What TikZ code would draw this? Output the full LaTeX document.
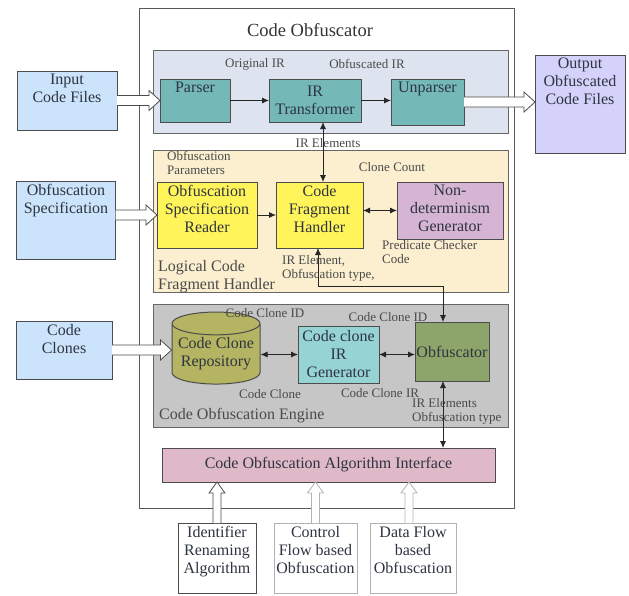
\documentclass[tikz,border=0pt]{standalone}
\usepackage{fontspec}
\setmainfont{Liberation Serif}
\usetikzlibrary{shapes.geometric,arrows.meta,calc}
\definecolor{topc}{HTML}{DDE4EF}
\definecolor{creamc}{HTML}{FCEFD0}
\definecolor{grayc}{HTML}{C6C6C6}
\definecolor{tealc}{HTML}{74B8B8}
\definecolor{yelc}{HTML}{FFF55A}
\definecolor{purc}{HTML}{D6B4D4}
\definecolor{inc}{HTML}{CCE4FB}
\definecolor{outc}{HTML}{D4D2FA}
\definecolor{olivec}{HTML}{B5B462}
\definecolor{cyanc}{HTML}{95D3D4}
\definecolor{obfc}{HTML}{8DA46A}
\definecolor{ifc}{HTML}{E0B9C8}
\definecolor{txt}{HTML}{2E3440}
\definecolor{lbltxt}{HTML}{4A4A4A}
\newcommand\hollowH[3][hollow]{\draw[#1] let \p1=(#2), \p2=(#3) in
  (\x1,\y1+5pt) -- (\x2-11pt,\y1+5pt) -- (\x2-11pt,\y1+10pt) -- (\x2,\y1)
  -- (\x2-11pt,\y1-10pt) -- (\x2-11pt,\y1-5pt) -- (\x1,\y1-5pt);}
\newcommand\hollowV[3][hollow]{\draw[#1] let \p1=(#2), \p2=(#3) in
  (\x1-4pt,\y1) -- (\x1-4pt,\y2-11pt) -- (\x1-8pt,\y2-11pt) -- (\x1,\y2)
  -- (\x1+8pt,\y2-11pt) -- (\x1+4pt,\y2-11pt) -- (\x1+4pt,\y1);}
\tikzset{
  region/.style={draw=black!60, line width=1pt, inner sep=0pt, outer sep=0pt},
  box/.style={draw=black!70, line width=1pt, inner sep=0pt, outer sep=0pt, align=center,
    font=\fontsize{16}{18}\selectfont, text=txt},
  toptext/.style={anchor=north, inner sep=0pt, yshift=-3pt, align=center,
    font=\fontsize{16}{18}\selectfont, text=txt},
  tbox/.style={label={[toptext]north:#1}},
  lbl/.style={font=\fontsize{13}{14.5}\selectfont, text=lbltxt, inner sep=0pt, align=left},
  big/.style={font=\fontsize{16}{18}\selectfont, text=lbltxt, inner sep=0pt, align=left},
  tip/.style={-{Latex[length=7pt,width=6pt]}, line width=0.8pt, draw=black!85},
  ttip/.style={{Latex[length=7pt,width=6pt]}-{Latex[length=7pt,width=6pt]}, line width=0.8pt, draw=black!85},
  hollow/.style={draw=black!70, fill=white, line width=0.8pt},
  lhollow/.style={draw=black!30, fill=white, line width=0.8pt},
}
\begin{document}
\begin{tikzpicture}[x=1pt,y=-1pt]
\useasboundingbox (0,0) rectangle (629,595);
% frame and regions
\node[region, draw=black!65, minimum width=375, minimum height=500] (frame) at (326.5,258) {};
\node[font=\fontsize{18.5}{20}\selectfont, text=black!80] (title) at (310,30) {Code Obfuscator};
\node[region, fill=topc, minimum width=355, minimum height=83] (rtop) at (330.5,91.5) {};
\node[region, fill=creamc, minimum width=355, minimum height=142] (rmid) at (330.5,221) {};
\node[region, fill=grayc, minimum width=355, minimum height=123] (rbot) at (330.5,365.5) {};
% outside inputs / outputs
\node[box, fill=inc, minimum width=100, minimum height=59, tbox={Input\\Code Files}] (inp) at (67,100.5) {};
\node[box, fill=outc, minimum width=90, minimum height=98, tbox={Output\\Obfuscated\\Code Files}] (out) at (580,104) {};
\node[box, fill=inc, minimum width=99, minimum height=78, tbox={Obfuscation\\Specification}] (spec) at (66,220) {};
\node[box, fill=inc, minimum width=96, minimum height=58, tbox={Code\\Clones}] (clones) at (64,350) {};
% top row
\node[box, fill=tealc, minimum width=70, minimum height=43, tbox={Parser}] (parser) at (195,100.5) {};
\node[box, fill=tealc, minimum width=92, minimum height=43] (irt) at (315,100.5) {IR\\Transformer};
\node[box, fill=tealc, minimum width=73, minimum height=46, tbox={Unparser}] (unp) at (427.5,102) {};
\node[lbl] (origir) at (255,64) {Original IR};
\node[lbl] (obfir) at (367,64) {Obfuscated IR};
% middle row
\node[box, fill=yelc, minimum width=100, minimum height=66, tbox={Obfuscation\\Specification\\Reader}] (osr) at (207,215) {};
\node[box, fill=yelc, minimum width=87, minimum height=66, tbox={Code\\Fragment\\Handler}] (cfh) at (319.5,215) {};
\node[box, fill=purc, minimum width=106, minimum height=57, tbox={Non-\\determinism\\Generator}] (ndg) at (450,210.5) {};
\node[lbl] (irel) at (328,143) {IR Elements};
\node[lbl, anchor=north west] (obpar) at (167,151) {Obfuscation\\Parameters};
\node[lbl] (ccount) at (392,167) {Clone Count};
\node[lbl, anchor=north west] (pcc) at (382,240) {Predicate Checker\\Code};
\node[lbl, anchor=north west] (ireltype) at (282,255) {IR Element,\\Obfuscation type,};
\node[big, anchor=north west] (lcfh) at (158,260) {Logical Code\\Fragment Handler};
% bottom row
\node[cylinder, shape border rotate=90, aspect=0.3, draw=black!70, line width=1pt, fill=olivec,
  minimum width=88, minimum height=72, inner sep=0pt, align=center,
  font=\fontsize{16}{18}\selectfont, text=txt] (repo) at (216,354) {Code Clone\\Repository};
\node[box, fill=cyanc, minimum width=81, minimum height=57] (ccirg) at (338.5,354.5) {Code clone\\IR\\Generator};
\node[box, fill=obfc, minimum width=74, minimum height=59] (obf) at (452,351.5) {Obfuscator};
\node[lbl] (ccid1) at (265,313) {Code Clone ID};
\node[lbl] (ccid2) at (388,317) {Code Clone ID};
\node[lbl] (cclone) at (270,394) {Code Clone};
\node[lbl] (ccir) at (380,393) {Code Clone IR};
\node[big, anchor=west] (coe) at (159,416) {Code Obfuscation Engine};
\node[lbl, anchor=north west] (irelob) at (412,398) {IR Elements\\Obfuscation type};
% interface and algorithms
\node[box, fill=ifc, minimum width=333, minimum height=34] (iface) at (328.5,465) {Code Obfuscation Algorithm Interface};
\node[box, fill=white, minimum width=78, minimum height=70, tbox={Identifier\\Renaming\\Algorithm}] (ira) at (217,558) {};
\node[box, draw=black!30, fill=white, minimum width=83, minimum height=70, tbox={Control\\Flow based\\Obfuscation}] (cfo) at (315.5,558) {};
\node[box, draw=black!30, fill=white, minimum width=86, minimum height=70, tbox={Data Flow\\based\\Obfuscation}] (dfo) at (413,558) {};
% connectors
\coordinate (a1) at ($(cfh.north)+(3.5,0)$);
\draw[ttip] (a1) -- (a1 |- irt.south);
\draw[tip] (osr.east) -- (cfh.west);
\draw[ttip] (cfh.east |- ndg.west) -- (ndg.west);
\coordinate (c1) at ($(cfh.south)+(-1.5,0)$);
\coordinate (o1) at ($(obf.north)+(-9,0)$);
\draw[ttip] (c1) -- ++(0,38) -| (o1);
\draw[ttip] (repo.east |- ccirg.west) -- (ccirg.west);
\draw[ttip] (ccirg.east) -- (ccirg.east -| obf.west);
\coordinate (o2) at ($(obf.south)+(-9,0)$);
\draw[ttip] (o2) -- (o2 |- iface.north);
\draw[tip] (irt.east) -- (unp.west |- irt.east);
\draw[tip] (parser.east) -- (irt.west);
% hollow arrows
\hollowH{inp.east}{inp.east -| parser.west}
\hollowH{unp.east}{unp.east -| out.west}
\hollowH{spec.east |- osr.west}{osr.west}
\hollowH{clones.east}{clones.east -| repo.west}
\hollowV{ira.north}{ira.north |- iface.south}
\hollowV[lhollow]{cfo.north}{cfo.north |- iface.south}
\coordinate (d1) at ($(dfo.north)+(-4,0)$);
\hollowV[lhollow]{d1}{d1 |- iface.south}
\end{tikzpicture}
\end{document}
